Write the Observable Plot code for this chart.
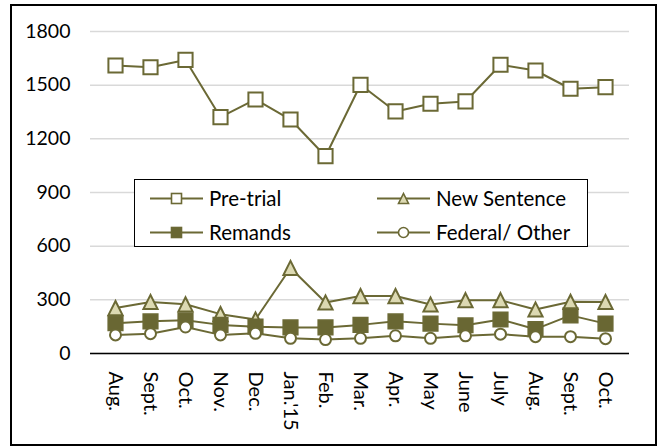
<!DOCTYPE html>
<html>
<head>
<meta charset="utf-8">
<script src="https://cdn.jsdelivr.net/npm/d3@7"></script>
<script src="https://cdn.jsdelivr.net/npm/@observablehq/plot@0.6"></script>
<style>
  html, body { margin: 0; padding: 0; background: #fff; }
  #wrap { position: relative; width: 660px; height: 448px; font-family: Lato, "Open Sans", sans-serif; }
  #border { position: absolute; left: 10px; top: 4px; width: 643px; height: 438px; border: 2px solid #000; pointer-events: none; }
  #legend { position: absolute; left: 134px; top: 179px; width: 452px; height: 66px; border: 1.6px solid #000; background: #fff; }
  .item { position: absolute; display: flex; align-items: center; font-size: 20.5px; color: #000; white-space: nowrap; }
  .item svg { margin-right: 6px; }
</style>
</head>
<body>
<div id="wrap">
  <div id="chart"></div>
  <div id="legend"></div>
  <div id="border"></div>
</div>
<script>
const months = ["Aug.", "Sept.", "Oct.", "Nov.", "Dec.", "Jan.'15", "Feb.", "Mar.", "Apr.", "May", "June", "July", "Aug.", "Sept.", "Oct."];
const preTrial     = [1610, 1600, 1641, 1321, 1420, 1308, 1103, 1502, 1353, 1396, 1409, 1614, 1582, 1480, 1489];
const newSentence  = [254, 288, 275, 220, 190, 478, 285, 321, 321, 274, 298, 298, 246, 289, 288];
const remands      = [169, 180, 186, 160, 150, 146, 146, 160, 180, 167, 158, 190, 136, 213, 167];
const federalOther = [104, 111, 148, 104, 113, 85, 78, 85, 99, 85, 99, 108, 94, 94, 83];
const yTicks = [0, 300, 600, 900, 1200, 1500, 1800];
const seriesNames = ["Pre-trial", "New Sentence", "Remands", "Federal/ Other"];

const lineColor = "#6b6935";
const squareFill = "#696733";
const triFill = "#dcd9b2";

const triangleSym = {
  draw(context, size) {
    const h = Math.sqrt(size) / 2;
    context.moveTo(0, -h);
    context.lineTo(h, h);
    context.lineTo(-h, h);
    context.closePath();
  }
};

const idx = months.map((_, i) => i);
const toData = (vals) => vals.map((v, i) => ({i, v}));
const dPre = toData(preTrial), dNew = toData(newSentence), dRem = toData(remands), dFed = toData(federalOther);

const chart = Plot.plot({
  width: 660,
  height: 448,
  marginLeft: 90,
  marginRight: 31,
  marginTop: 31,
  marginBottom: 95,
  x: {type: "point", domain: idx, padding: 0.5, label: null},
  y: {domain: [0, 1800], label: null},
  style: {fontFamily: "Lato, 'Open Sans', sans-serif", fontSize: "19px", color: "#000", background: "transparent"},
  marks: [
    Plot.gridY(yTicks, {stroke: "#d9d9d9", strokeOpacity: 1, strokeWidth: 1.5}),
    Plot.axisY(yTicks, {tickSize: 0, tickPadding: 20, fontSize: 19.5, label: null, tickFormat: d => String(d)}),
    Plot.axisX({tickSize: 0, tickRotate: 90, tickPadding: 18, fontSize: 20, label: null, tickFormat: i => months[i]}),
    Plot.ruleY([0], {stroke: "#000", strokeWidth: 1.5}),
    Plot.line(dPre, {x: "i", y: "v", stroke: lineColor, strokeWidth: 2}),
    Plot.dot(dPre, {x: "i", y: "v", symbol: "square", r: 8, fill: "#fff", stroke: lineColor, strokeWidth: 2}),
    Plot.line(dNew, {x: "i", y: "v", stroke: lineColor, strokeWidth: 2}),
    Plot.dot(dNew, {x: "i", y: "v", symbol: triangleSym, r: 8, fill: triFill, stroke: lineColor, strokeWidth: 2}),
    Plot.line(dRem, {x: "i", y: "v", stroke: lineColor, strokeWidth: 2}),
    Plot.dot(dRem, {x: "i", y: "v", symbol: "square", r: 8, fill: squareFill, stroke: lineColor, strokeWidth: 2}),
    Plot.line(dFed, {x: "i", y: "v", stroke: lineColor, strokeWidth: 2}),
    Plot.dot(dFed, {x: "i", y: "v", symbol: "circle", r: 5.5, fill: "#fff", stroke: lineColor, strokeWidth: 2})
  ]
});
document.getElementById("chart").appendChild(chart);

// Legend
const legend = document.getElementById("legend");
const markerSvg = (kind) => {
  let m = "";
  if (kind === 0) m = `<rect x="21.5" y="5.5" width="10" height="10" fill="#fff" stroke="${lineColor}" stroke-width="1.6"/>`;
  if (kind === 1) m = `<path d="M26.5,5.5 L31.5,15.5 L21.5,15.5 Z" fill="${triFill}" stroke="${lineColor}" stroke-width="1.6"/>`;
  if (kind === 2) m = `<rect x="21.5" y="5.5" width="10" height="10" fill="${squareFill}" stroke="${lineColor}" stroke-width="1.6"/>`;
  if (kind === 3) m = `<circle cx="26.5" cy="10.5" r="5" fill="#fff" stroke="${lineColor}" stroke-width="1.6"/>`;
  return `<svg width="53" height="21"><line x1="0" x2="53" y1="10.5" y2="10.5" stroke="${lineColor}" stroke-width="1.8"/>${m}</svg>`;
};
const pos = [[15, 6], [242, 6], [15, 40], [242, 40]];
seriesNames.forEach((name, k) => {
  const div = document.createElement("div");
  div.className = "item";
  div.style.left = pos[k][0] + "px";
  div.style.top = pos[k][1] + "px";
  div.innerHTML = markerSvg(k) + `<span>${name}</span>`;
  legend.appendChild(div);
});
</script>
</body>
</html>
